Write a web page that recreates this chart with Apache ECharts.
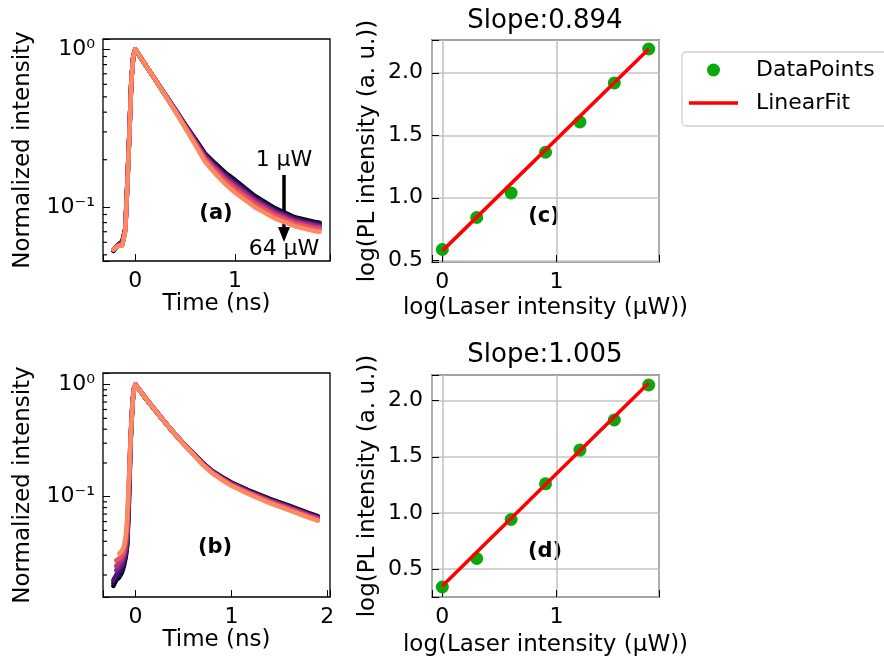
<!DOCTYPE html>
<html>
<head>
<meta charset="utf-8">
<script src="https://cdn.jsdelivr.net/npm/echarts@6.0.0/dist/echarts.min.js"></script>
<style>
html,body{margin:0;padding:0;background:#fff;}
#chart{width:884px;height:661px;}
</style>
</head>
<body>
<div id="chart"></div>
<script>
// ---------- data ----------
const POWERS = ['1 µW', '2 µW', '4 µW', '8 µW', '16 µW', '32 µW', '64 µW'];
const COLORS = ['#000004', '#1d1147', '#51127c', '#822681', '#b73779', '#e75263', '#fc8961'];

// panel (a): time (ns) and normalized intensity per laser power
const T_A = [-0.22, -0.17, -0.13, -0.10, -0.08, -0.06, -0.04, -0.02, 0, 0.1, 0.2, 0.3, 0.4, 0.5, 0.6, 0.7, 0.8, 0.9, 1.0, 1.2, 1.4, 1.6, 1.8, 1.85];
const A_P1  = [0.053, 0.058, 0.061, 0.074, 0.140, 0.290, 0.630, 0.910, 1.0, 0.800, 0.643, 0.516, 0.417, 0.334, 0.271, 0.219, 0.190, 0.166, 0.149, 0.118, 0.0987, 0.0865, 0.0807, 0.0798];
const A_P2  = [0.053, 0.058, 0.060, 0.073, 0.140, 0.290, 0.630, 0.910, 1.0, 0.800, 0.643, 0.516, 0.416, 0.332, 0.269, 0.216, 0.187, 0.163, 0.146, 0.116, 0.0971, 0.0852, 0.0795, 0.0786];
const A_P4  = [0.054, 0.058, 0.060, 0.073, 0.140, 0.290, 0.630, 0.910, 1.0, 0.800, 0.643, 0.515, 0.414, 0.330, 0.266, 0.213, 0.183, 0.160, 0.142, 0.113, 0.0951, 0.0838, 0.0782, 0.0773];
const A_P8  = [0.054, 0.058, 0.059, 0.072, 0.138, 0.285, 0.625, 0.905, 1.0, 0.800, 0.643, 0.514, 0.412, 0.328, 0.262, 0.209, 0.180, 0.156, 0.139, 0.111, 0.0933, 0.0823, 0.0767, 0.0759];
const A_P16 = [0.054, 0.057, 0.058, 0.072, 0.137, 0.283, 0.622, 0.903, 1.0, 0.800, 0.643, 0.514, 0.411, 0.325, 0.259, 0.205, 0.176, 0.152, 0.135, 0.108, 0.0912, 0.0807, 0.0753, 0.0744];
const A_P32 = [0.054, 0.057, 0.058, 0.071, 0.136, 0.281, 0.620, 0.900, 1.0, 0.800, 0.643, 0.513, 0.408, 0.322, 0.255, 0.201, 0.171, 0.148, 0.131, 0.105, 0.0888, 0.0788, 0.0735, 0.0727];
const A_P64 = [0.054, 0.057, 0.057, 0.071, 0.135, 0.280, 0.620, 0.900, 1.0, 0.800, 0.643, 0.511, 0.405, 0.318, 0.249, 0.194, 0.164, 0.141, 0.124, 0.100, 0.0851, 0.0759, 0.0708, 0.070];

// panel (b)
const T_B = [-0.23, -0.20, -0.17, -0.14, -0.12, -0.10, -0.085, -0.07, -0.05, -0.03, -0.015, 0, 0.1, 0.2, 0.3, 0.4, 0.5, 0.6, 0.7, 0.8, 0.9, 1.0, 1.2, 1.4, 1.6, 1.8, 1.9];
const B_P1  = [0.016, 0.018, 0.019, 0.021, 0.024, 0.029, 0.037, 0.075, 0.30, 0.68, 0.92, 1.0, 0.770, 0.600, 0.470, 0.372, 0.299, 0.246, 0.201, 0.170, 0.150, 0.134, 0.112, 0.0956, 0.0831, 0.0718, 0.0671];
const B_P2  = [0.017, 0.019, 0.020, 0.022, 0.025, 0.030, 0.038, 0.080, 0.31, 0.69, 0.92, 1.0, 0.770, 0.600, 0.470, 0.372, 0.299, 0.245, 0.200, 0.169, 0.149, 0.133, 0.111, 0.0946, 0.0823, 0.0710, 0.0664];
const B_P4  = [0.018, 0.020, 0.022, 0.024, 0.027, 0.032, 0.041, 0.090, 0.32, 0.69, 0.92, 1.0, 0.770, 0.600, 0.470, 0.372, 0.298, 0.245, 0.199, 0.168, 0.148, 0.132, 0.110, 0.0936, 0.0812, 0.0701, 0.0655];
const B_P8  = [null, 0.022, 0.024, 0.026, 0.029, 0.034, 0.045, 0.100, 0.33, 0.70, 0.92, 1.0, 0.770, 0.600, 0.470, 0.372, 0.298, 0.244, 0.198, 0.167, 0.146, 0.130, 0.108, 0.0924, 0.0802, 0.0692, 0.0647];
const B_P16 = [null, 0.024, 0.026, 0.028, 0.031, 0.037, 0.050, 0.110, 0.34, 0.70, 0.93, 1.0, 0.770, 0.600, 0.470, 0.372, 0.297, 0.243, 0.196, 0.166, 0.145, 0.129, 0.107, 0.0913, 0.0792, 0.0682, 0.0637];
const B_P32 = [null, 0.027, 0.028, 0.030, 0.033, 0.040, 0.056, 0.120, 0.35, 0.71, 0.93, 1.0, 0.770, 0.600, 0.470, 0.372, 0.297, 0.242, 0.195, 0.164, 0.144, 0.127, 0.106, 0.0898, 0.0779, 0.0671, 0.0626];
const B_P64 = [null, null, 0.031, 0.033, 0.036, 0.045, 0.065, 0.125, 0.32, 0.66, 0.92, 1.0, 0.770, 0.600, 0.470, 0.372, 0.296, 0.240, 0.193, 0.162, 0.1413, 0.1251, 0.1035, 0.0877, 0.0759, 0.0653, 0.0610];

// panels (c) and (d): log(laser intensity) vs log(PL intensity)
const LOG_LASER = [0, 0.301, 0.602, 0.903, 1.204, 1.505, 1.806];
const PL_C = [0.586, 0.842, 1.038, 1.364, 1.606, 1.918, 2.190];
const PL_D = [0.339, 0.593, 0.941, 1.259, 1.560, 1.828, 2.140];
const FIT_X = [0, 1.806];
const FIT_C = [0.575, 2.190];
const FIT_D = [0.348, 2.158];
const TITLE_C = 'Slope:0.894';
const TITLE_D = 'Slope:1.005';

// axis ranges and minor tick values
const XR_A = [-0.324, 1.954], YR_A = [0.0457, 1.162];
const XR_B = [-0.3375, 2.0275], YR_B = [0.01273, 1.27];
const XR_CD = [-0.0903, 1.896], YR_C = [0.486, 2.262], YR_D = [0.25, 2.229];
const MINOR_A = [0.05, 0.06, 0.07, 0.08, 0.09, 0.2, 0.3, 0.4, 0.5, 0.6, 0.7, 0.8, 0.9];
const MINOR_B = [0.02, 0.03, 0.04, 0.05, 0.06, 0.07, 0.08, 0.09, 0.2, 0.3, 0.4, 0.5, 0.6, 0.7, 0.8, 0.9];

// ---------- helpers ----------
const FONT = 'DejaVu Sans';
const GREEN = '#0aa80a';
const SUP = {'0': '⁰', '1': '¹', '2': '²', '3': '³', '-': '⁻'};
function powFmt(v) {
  const e = Math.log10(v), r = Math.round(e);
  if (Math.abs(e - r) > 1e-6) return '';
  return '10' + String(r).split('').map(c => SUP[c]).join('');
}
function intFmt(v) { return Math.abs(v - Math.round(v)) < 1e-9 ? String(Math.round(v)) : ''; }
function halfFmt(v) { const k = v * 2; return Math.abs(k - Math.round(k)) < 1e-9 ? v.toFixed(1) : ''; }
function pairs(T, V) { const out = []; T.forEach((t, i) => { if (V[i] != null) out.push([t, V[i]]); }); return out; }

const tickStyle = {show: true, inside: true, length: 7, lineStyle: {color: '#000', width: 1}};
const labelStyle = {fontSize: 22, color: '#000', fontFamily: FONT, margin: 9};
const nameStyle = {fontSize: 23, color: '#000', fontFamily: FONT};
const gridLine = {show: true, lineStyle: {color: '#c4c4c4', width: 1.6}};
const noLine = {show: false, onZero: false};

function xAxis(gi, r, name, gap, grid) {
  return {gridIndex: gi, type: 'value', min: r[0], max: r[1], minInterval: 1, maxInterval: 1,
    name: name, nameLocation: 'middle', nameGap: gap, nameTextStyle: nameStyle,
    axisLine: noLine, axisTick: tickStyle,
    axisLabel: Object.assign({formatter: intFmt}, labelStyle),
    splitLine: grid ? gridLine : {show: false}};
}
function yLog(gi, r, gap) {
  return {gridIndex: gi, type: 'log', logBase: 10, min: r[0], max: r[1],
    name: 'Normalized intensity', nameLocation: 'middle', nameGap: gap, nameTextStyle: nameStyle,
    axisLine: noLine, axisTick: tickStyle,
    axisLabel: Object.assign({formatter: powFmt}, labelStyle, {margin: 8}),
    splitLine: {show: false}, minorTick: {show: false}};
}
function yLin(gi, r, gap) {
  return {gridIndex: gi, type: 'value', min: r[0], max: r[1], minInterval: 0.5, maxInterval: 0.5,
    name: 'log(PL intensity (a. u.))', nameLocation: 'middle', nameGap: gap, nameTextStyle: nameStyle,
    axisLine: noLine, axisTick: tickStyle,
    axisLabel: Object.assign({formatter: halfFmt}, labelStyle),
    splitLine: gridLine};
}
// minor log ticks: short inward marks on the left spine, placed by the axes themselves
function minorSeries(gi, xr, values) {
  return {type: 'scatter', xAxisIndex: gi, yAxisIndex: gi, silent: true, clip: false, z: 5,
    data: values.map(v => [xr[0], v]), symbol: 'rect', symbolSize: [4, 1.2], symbolOffset: [2, 0],
    itemStyle: {color: '#000', opacity: 1}, emphasis: {disabled: true}};
}

const series = [];
const A_SETS = [A_P1, A_P2, A_P4, A_P8, A_P16, A_P32, A_P64];
const B_SETS = [B_P1, B_P2, B_P4, B_P8, B_P16, B_P32, B_P64];
A_SETS.forEach((v, k) => series.push({type: 'line', name: POWERS[k], xAxisIndex: 0, yAxisIndex: 0,
  data: pairs(T_A, v), symbol: 'none', showSymbol: false, silent: true,
  lineStyle: {color: COLORS[k], width: 4.5, cap: 'round', join: 'round'}, itemStyle: {color: COLORS[k]}}));
B_SETS.forEach((v, k) => series.push({type: 'line', name: POWERS[k], xAxisIndex: 1, yAxisIndex: 1,
  data: pairs(T_B, v), symbol: 'none', showSymbol: false, silent: true,
  lineStyle: {color: COLORS[k], width: 4.5, cap: 'round', join: 'round'}, itemStyle: {color: COLORS[k]}}));
series.push(minorSeries(0, XR_A, MINOR_A));
series.push(minorSeries(1, XR_B, MINOR_B));
[[2, PL_C, FIT_C], [3, PL_D, FIT_D]].forEach(([gi, pl, fit]) => {
  series.push({type: 'scatter', name: 'DataPoints', xAxisIndex: gi, yAxisIndex: gi,
    data: LOG_LASER.map((x, i) => [x, pl[i]]), symbol: 'circle', symbolSize: 13,
    itemStyle: {color: GREEN, opacity: 1}});
  series.push({type: 'line', name: 'LinearFit', xAxisIndex: gi, yAxisIndex: gi,
    data: FIT_X.map((x, i) => [x, fit[i]]), symbol: 'none', showSymbol: false,
    lineStyle: {color: '#ff0000', width: 3.5}, itemStyle: {color: '#ff0000'}});
});

const gridBase = {show: true, borderColor: '#000', borderWidth: 1.3, backgroundColor: 'transparent', containLabel: false};
const option = {
  animation: false,
  backgroundColor: '#ffffff',
  textStyle: {fontFamily: FONT},
  title: [
    {text: TITLE_C, left: 545, top: 8, textAlign: 'center', padding: 0,
      textStyle: {fontSize: 26, fontWeight: 'normal', color: '#000', fontFamily: FONT}},
    {text: TITLE_D, left: 545, top: 342, textAlign: 'center', padding: 0,
      textStyle: {fontSize: 26, fontWeight: 'normal', color: '#000', fontFamily: FONT}}
  ],
  legend: {
    data: [{name: 'DataPoints', icon: 'circle'},
           {name: 'LinearFit', icon: 'path://M0,0 L49,0 L49,3.5 L0,3.5 Z'}],
    orient: 'vertical', left: 689, top: 59, padding: 0,
    itemWidth: 49, itemHeight: 13, itemGap: 11, selectedMode: false,
    textStyle: {fontSize: 22, color: '#000', fontFamily: FONT, lineHeight: 22, padding: [0, 0, 0, 13]}
  },
  grid: [
    Object.assign({left: 103, top: 39, width: 227, height: 222}, gridBase),
    Object.assign({left: 103, top: 373, width: 227, height: 224}, gridBase),
    Object.assign({left: 432, top: 40, width: 227, height: 222}, gridBase),
    Object.assign({left: 432, top: 375, width: 227, height: 222}, gridBase)
  ],
  xAxis: [
    xAxis(0, XR_A, 'Time (ns)', 27, false),
    xAxis(1, XR_B, 'Time (ns)', 29, false),
    xAxis(2, XR_CD, 'log(Laser intensity (µW))', 35, true),
    xAxis(3, XR_CD, 'log(Laser intensity (µW))', 37, true)
  ],
  yAxis: [
    yLog(0, YR_A, 68),
    yLog(1, YR_B, 68),
    yLin(2, YR_C, 52),
    yLin(3, YR_D, 52)
  ],
  series: series,
  graphic: [
    {type: 'rect', shape: {x: 682, y: 52, width: 260, height: 74, r: 4},
      style: {fill: 'transparent', stroke: '#d0d0d0', lineWidth: 1.3}, silent: true},
    {type: 'text', x: 216, y: 214, style: {text: '(a)', font: 'bold 21px "DejaVu Sans"', fill: '#000', align: 'center', verticalAlign: 'middle'}},
    {type: 'text', x: 215, y: 548, style: {text: '(b)', font: 'bold 21px "DejaVu Sans"', fill: '#000', align: 'center', verticalAlign: 'middle'}},
    {type: 'text', x: 544, y: 217, style: {text: '(c)', font: 'bold 21px "DejaVu Sans"', fill: '#000', align: 'center', verticalAlign: 'middle'}},
    {type: 'text', x: 545, y: 552, style: {text: '(d)', font: 'bold 21px "DejaVu Sans"', fill: '#000', align: 'center', verticalAlign: 'middle'}},
    {type: 'text', x: 284, y: 160, style: {text: '1 µW', font: '22px "DejaVu Sans"', fill: '#000', align: 'center', verticalAlign: 'middle'}},
    {type: 'text', x: 284, y: 249, style: {text: '64 µW', font: '22px "DejaVu Sans"', fill: '#000', align: 'center', verticalAlign: 'middle'}},
    {type: 'line', shape: {x1: 284, y1: 175, x2: 284, y2: 228}, style: {stroke: '#000', lineWidth: 3.5}},
    {type: 'polygon', shape: {points: [[278, 227], [290, 227], [284, 242]]}, style: {fill: '#000'}}
  ]
};

const chart = echarts.init(document.getElementById('chart'), null, {renderer: 'canvas'});
chart.setOption(option);
</script>
</body>
</html>
